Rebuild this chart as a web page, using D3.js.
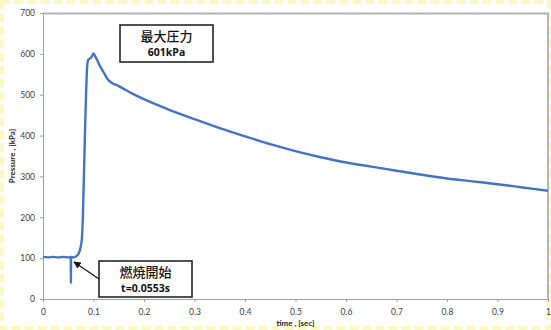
<!DOCTYPE html>
<html>
<head>
<meta charset="utf-8">
<script src="https://cdn.jsdelivr.net/npm/d3@7"></script>
<style>
  body { margin: 0; background: #fff; }
  svg { display: block; }
</style>
</head>
<body>
<div id="chart"></div>
<script>
// data
const timeVals = [0, 0.01, 0.02, 0.03, 0.04, 0.05, 0.055, 0.0553, 0.0556, 0.06, 0.065, 0.07, 0.074, 0.077, 0.079, 0.081, 0.083, 0.085, 0.087, 0.089, 0.092, 0.096, 0.1, 0.102, 0.106, 0.112, 0.12, 0.128, 0.135, 0.15, 0.175, 0.2, 0.25, 0.3, 0.35, 0.4, 0.45, 0.5, 0.55, 0.6, 0.65, 0.7, 0.75, 0.8, 0.85, 0.9, 0.95, 1.0];
const pressureVals = [103, 102, 103, 102, 103, 102, 103, 38, 103, 102, 104, 110, 124, 148, 205, 300, 400, 490, 560, 584, 588, 592, 601, 597, 588, 572, 555, 538, 530, 521, 504, 489, 463, 440, 418, 398, 379, 362, 347, 334, 324, 314, 304, 295, 288, 281, 273, 265];
const xTicks = [0, 0.1, 0.2, 0.3, 0.4, 0.5, 0.6, 0.7, 0.8, 0.9, 1];
const yTicks = [0, 100, 200, 300, 400, 500, 600, 700];

const W = 551, H = 330;
const margin = { top: 13, right: 3, bottom: 31, left: 43 };
const iw = W - margin.left - margin.right;
const ih = H - margin.top - margin.bottom;

const svg = d3.select("#chart").append("svg")
    .attr("width", W)
    .attr("height", H);

// pale yellow dashed frame round the picture
svg.append("rect")
    .attr("x", 1.5).attr("y", 1.5)
    .attr("width", W - 3).attr("height", H - 3)
    .attr("fill", "none")
    .attr("stroke", "#fdf7c4")
    .attr("stroke-width", 5)
    .attr("stroke-dasharray", "9,4");

const g = svg.append("g").attr("transform", `translate(${margin.left},${margin.top})`);

const x = d3.scaleLinear().domain([0, 1]).range([0, iw]);
const y = d3.scaleLinear().domain([0, 700]).range([ih, 0]);

// plot frame (top/right a bit heavier, like a shadow)
g.append("rect")
    .attr("x", 0).attr("y", 0)
    .attr("width", iw).attr("height", ih)
    .attr("fill", "#fff");
g.append("path")
    .attr("d", `M0,0.5H${iw}V${ih}`)
    .attr("fill", "none")
    .attr("stroke", "#b4b4b4")
    .attr("stroke-width", 2);

const tickFont = "Lato, 'Liberation Sans', sans-serif";

const xAxis = g.append("g")
    .attr("transform", `translate(0,${ih})`)
    .call(d3.axisBottom(x).tickValues(xTicks).tickSize(3).tickPadding(7)
        .tickFormat(d => d === 0 || d === 1 ? d3.format("d")(d) : d3.format(".1f")(d)));

const yAxis = g.append("g")
    .call(d3.axisLeft(y).tickValues(yTicks).tickSize(3).tickPadding(5));

[xAxis, yAxis].forEach(ax => {
    ax.select(".domain").attr("stroke", "#a0a0a0");
    ax.selectAll(".tick line").attr("stroke", "#a0a0a0");
    ax.selectAll("text")
        .attr("fill", "#404040")
        .style("font-family", tickFont)
        .style("font-size", "8.5px");
});

// axis titles
svg.append("text")
    .attr("x", margin.left + x(0.5))
    .attr("y", 326)
    .attr("text-anchor", "middle")
    .style("font-family", tickFont)
    .style("font-size", "8px")
    .style("font-weight", "bold")
    .attr("fill", "#262626")
    .text("time , [sec]");

svg.append("text")
    .attr("transform", `translate(15,${margin.top + ih / 2}) rotate(-90)`)
    .attr("text-anchor", "middle")
    .style("font-family", tickFont)
    .style("font-size", "8px")
    .style("font-weight", "bold")
    .attr("fill", "#262626")
    .text("Pressure , [kPa]");

// pressure trace
const points = timeVals.map((t, i) => [t, pressureVals[i]]);
const line = d3.line()
    .x(d => x(d[0]))
    .y(d => y(d[1]))
    .curve(d3.curveMonotoneX);

g.append("path")
    .datum(points)
    .attr("d", line)
    .attr("fill", "none")
    .attr("stroke", "#4472c4")
    .attr("stroke-width", 2.4)
    .attr("stroke-linejoin", "round");

// annotation boxes
const jpFont = "'Noto Sans CJK JP', sans-serif";

function noteBox(bx, by, bw, bh, line1, line2) {
    const b = svg.append("g");
    b.append("rect")
        .attr("x", bx).attr("y", by)
        .attr("width", bw).attr("height", bh)
        .attr("fill", "#fff")
        .attr("stroke", "#262626")
        .attr("stroke-width", 1.6);
    b.append("text")
        .attr("x", bx + bw / 2).attr("y", by + 16)
        .attr("text-anchor", "middle")
        .style("font-family", jpFont)
        .style("font-size", "13px")
        .style("font-weight", 500)
        .attr("fill", "#111")
        .text(line1);
    b.append("text")
        .attr("x", bx + bw / 2).attr("y", by + 31)
        .attr("text-anchor", "middle")
        .style("font-family", "'Open Sans', sans-serif")
        .style("font-size", "10.5px")
        .style("font-weight", "bold")
        .attr("fill", "#111")
        .text(line2);
}

noteBox(120, 25, 93, 37, "最大圧力", "601kPa");
noteBox(99, 261, 93, 36, "燃焼開始", "t=0.0553s");

// arrow from box to ignition point
svg.append("defs").append("marker")
    .attr("id", "arrowhead")
    .attr("viewBox", "0 0 10 10")
    .attr("refX", 9).attr("refY", 5)
    .attr("markerWidth", 6).attr("markerHeight", 6)
    .attr("orient", "auto")
    .append("path")
    .attr("d", "M0,0L10,5L0,10z")
    .attr("fill", "#111");

svg.append("line")
    .attr("x1", 99).attr("y1", 279)
    .attr("x2", 74).attr("y2", 262)
    .attr("stroke", "#111")
    .attr("stroke-width", 1.2)
    .attr("marker-end", "url(#arrowhead)");
</script>
</body>
</html>
